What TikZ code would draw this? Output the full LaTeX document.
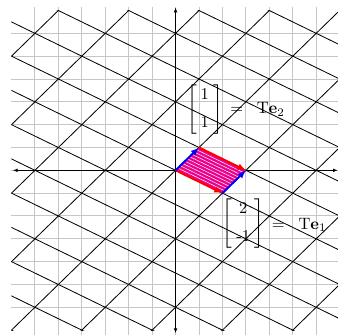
\documentclass[tikz,border=0pt]{standalone}
\usepackage{amsmath}
\usepackage{amssymb}
\usepackage{tikz}
\usetikzlibrary{arrows.meta}

\begin{document}
\begin{tikzpicture}[
    x=0.5cm, y=0.487cm,
    helpgrid/.style={gray!45, line width=0.6pt},
    tgrid/.style={black, line width=0.5pt},
    axis/.style={{Latex[length=3pt]}-{Latex[length=3pt]}, line width=0.8pt},
    vecr/.style={-{Latex[length=5pt, width=4pt]}, red, line width=1.2pt},
    vecb/.style={-{Latex[length=5pt, width=4pt]}, blue, line width=1.2pt},
    lbl/.style={inner sep=0pt, font=\normalsize}
]
\useasboundingbox (-7.49,-7.21) rectangle (6.93,7.46);
% background grid
\foreach \k in {-6,...,6} {
    \draw[helpgrid] (\k,-7.3) -- (\k,7.16);
    \draw[helpgrid] (-7,\k) -- (7,\k);
}
% image of the grid under T
\begin{scope}
    \clip (-7,-7) rectangle (7,7);
    \foreach \k in {-5,...,5} \draw[tgrid] (2*\k-10,-\k-10) -- (2*\k+10,-\k+10);
    \foreach \k in {-8,...,8} \draw[tgrid] (\k-20,\k+10) -- (\k+20,\k-10);
\end{scope}
\draw[axis] (-6.95,0) -- (6.93,0);
\draw[axis] (0,-7.14) -- (0,7.14);
% image of the unit square
\fill[magenta] (0,0) -- (2,-1) -- (3,0) -- (1,1) -- cycle;
\foreach \t in {0.1,0.2,...,0.9} \draw[white, line width=0.3pt] (\t,\t) -- ++(2,-1);
\draw[vecr] (0,0) -- (2,-1);
\draw[vecr] (1,1) -- (3,0);
\draw[vecb] (0,0) -- (1,1);
\draw[vecb] (2,-1) -- (3,0);
% labels
\node[lbl] (mate2) at (1.25,2.66) {$\left[\begin{array}{@{\hspace{2.5pt}}c@{\hspace{2.5pt}}}1\\[5pt]1\end{array}\right]$};
\node[lbl, anchor=west] (te2) at (2.32,2.66) {$=\;\;\mathrm{T}\mathbf{e}_2$};
\node[lbl] (mate1) at (2.89,-2.33) {$\left[\begin{array}{@{\hspace{2.5pt}}c@{\hspace{2.5pt}}}2\\[5pt]\mbox{-}1\end{array}\right]$};
\node[lbl, anchor=west] (te1) at (4.10,-2.40) {$=\;\;\mathrm{T}\mathbf{e}_1$};
\end{tikzpicture}
\end{document}
